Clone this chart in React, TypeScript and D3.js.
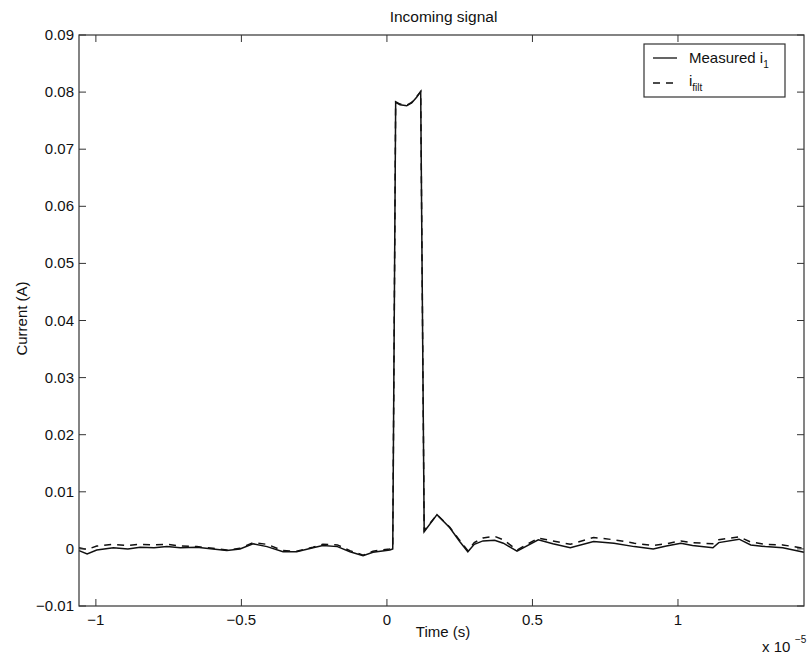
import React from "react";
import * as d3 from "d3";

// time in units of 1e-5 s
const time = [
  -1.058, -1.03, -0.997, -0.94, -0.89, -0.848, -0.8, -0.756, -0.71, -0.653, -0.598, -0.55, -0.505, -0.46,
  -0.412, -0.357, -0.31, -0.254, -0.22, -0.17, -0.127, -0.082, -0.048, 0.01, 0.02, 0.03, 0.045, 0.068,
  0.085, 0.102, 0.116, 0.128, 0.172, 0.216, 0.25, 0.278, 0.3, 0.33, 0.37, 0.4, 0.447, 0.52, 0.57, 0.63, 0.71,
  0.78, 0.85, 0.915, 0.96, 1.01, 1.05, 1.12, 1.14, 1.21, 1.25, 1.3, 1.36, 1.433,
];
const measured = [
  -0.0003, -0.0009, -0.0002, 0.0002, 0.0, 0.0003, 0.0002, 0.0004, 0.0002, 0.0003, 0.0, -0.0003, 0.0, 0.0009,
  0.0004, -0.0005, -0.0005, 0.0002, 0.0006, 0.0004, -0.0005, -0.0012, -0.0006, -0.0002, 0.0, 0.0782, 0.0778, 0.0776,
  0.0781, 0.0791, 0.0801, 0.003, 0.006, 0.0037, 0.0013, -0.0005, 0.0008, 0.0014, 0.0015, 0.001, -0.0004, 0.0016, 0.0009, 0.0002, 0.0013,
  0.001, 0.0004, 0.0, 0.0005, 0.001, 0.0006, 0.0002, 0.0011, 0.0017, 0.0007, 0.0004, 0.0002, -0.0006,
];
const filtered = [
  0.0002, -0.0001, 0.0005, 0.0008, 0.0006, 0.0008, 0.0007, 0.0008, 0.0005, 0.0004, 0.0001, -0.0002, 0.0001, 0.0011,
  0.0008, -0.0003, -0.0004, 0.0003, 0.0008, 0.0007, -0.0003, -0.0011, -0.0004, 0.0, 0.0002, 0.0783, 0.0779, 0.0777,
  0.0782, 0.0792, 0.0801, 0.0032, 0.006, 0.0038, 0.0015, -0.0003, 0.0011, 0.0019, 0.0022, 0.0016, -0.0002, 0.0019, 0.0014, 0.0008, 0.002,
  0.0016, 0.001, 0.0006, 0.0009, 0.0014, 0.0011, 0.0009, 0.0016, 0.0021, 0.0012, 0.0008, 0.0007, 0.0001,
];
const xTicks = [-1, -0.5, 0, 0.5, 1];
const yTicks = [-0.01, 0, 0.01, 0.02, 0.03, 0.04, 0.05, 0.06, 0.07, 0.08, 0.09];
const title = "Incoming signal";
const xLabel = "Time (s)";
const yLabel = "Current (A)";

export default function App() {
  const W = 808, H = 656;
  const L = 79, R = 804, T = 35, B = 606;
  const x = d3.scaleLinear().domain([-1.058, 1.433]).range([L, R]);
  const y = d3.scaleLinear().domain([-0.01, 0.09]).range([B, T]);
  const line = d3.line<number>().x((_, i) => x(time[i])).y((d) => y(d));
  const font = "'Liberation Sans', Arial, Helvetica, sans-serif";
  const axisColor = "#333";
  const tl = 7;
  const fmtY = (v: number) => (v === 0 ? "0" : d3.format(".2f")(v).replace("-", "\u2212"));
  const fmtX = (v: number) => String(v).replace("-", "\u2212");
  return (
    <svg width={W} height={H} style={{ position: "absolute", left: 0, top: 0, background: "#fff" }} fontFamily={font}>
      <rect x={0} y={0} width={W} height={H} fill="#fff" />
      <text x={(L + R) / 2 + 2} y={22} textAnchor="middle" fontSize={15.5} fill="#111">{title}</text>
      {/* lines */}
      <path d={line(filtered) || ""} fill="none" stroke="#111" strokeWidth={1.5} strokeDasharray="7,6" />
      <path d={line(measured) || ""} fill="none" stroke="#111" strokeWidth={1.5} />
      {/* box */}
      <rect x={L} y={T} width={R - L} height={B - T} fill="none" stroke={axisColor} strokeWidth={1.2} />
      {xTicks.map((t) => (
        <g key={"x" + t}>
          <line x1={x(t)} x2={x(t)} y1={B} y2={B - tl} stroke={axisColor} />
          <line x1={x(t)} x2={x(t)} y1={T} y2={T + tl} stroke={axisColor} />
          <text x={x(t)} y={625} textAnchor="middle" fontSize={15} fill="#111">{fmtX(t)}</text>
        </g>
      ))}
      {yTicks.map((t) => (
        <g key={"y" + t}>
          <line x1={L} x2={L + tl} y1={y(t)} y2={y(t)} stroke={axisColor} />
          <line x1={R} x2={R - tl} y1={y(t)} y2={y(t)} stroke={axisColor} />
          <text x={74} y={y(t) + 5} textAnchor="end" fontSize={15} fill="#111">{fmtY(t)}</text>
        </g>
      ))}
      <text x={443} y={637} textAnchor="middle" fontSize={15} fill="#111">{xLabel}</text>
      <text transform={`translate(27,${(T + B) / 2 - 2}) rotate(-90)`} textAnchor="middle" fontSize={15} fill="#111">{yLabel}</text>
      <text x={762} y={652} fontSize={15} fill="#111">x 10</text>
      <text x={795} y={643} fontSize={10} fill="#111">−5</text>
      {/* legend */}
      <rect x={644} y={44} width={141} height={53} fill="#fff" stroke={axisColor} strokeWidth={1.2} />
      <line x1={653} x2={677} y1={58} y2={58} stroke="#111" strokeWidth={1.3} />
      <text x={689} y={63} fontSize={15} fill="#111">Measured i<tspan fontSize={10} dy={5}>1</tspan></text>
      <line x1={653} x2={677} y1={83} y2={83} stroke="#111" strokeWidth={1.3} strokeDasharray="7,6" />
      <text x={689} y={86} fontSize={15} fill="#111">i<tspan fontSize={10} dy={5}>filt</tspan></text>
    </svg>
  );
}
